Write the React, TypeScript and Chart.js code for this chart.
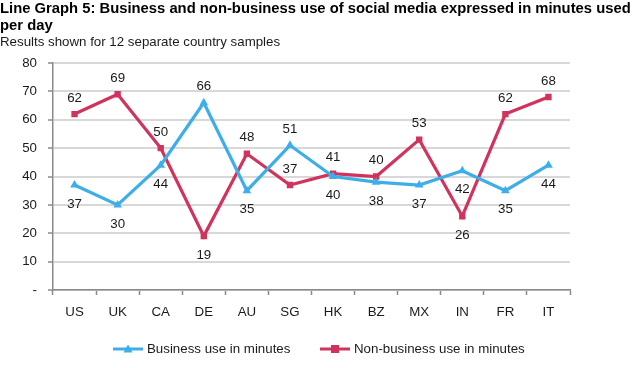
import React, { useEffect, useRef } from 'react';
import { Chart, registerables } from 'chart.js';

Chart.register(...registerables);

const titleLines = [
  'Line Graph 5: Business and non-business use of social media expressed in minutes used',
  'per day',
];
const subtitleText = 'Results shown for 12 separate country samples';
const countries = ['US', 'UK', 'CA', 'DE', 'AU', 'SG', 'HK', 'BZ', 'MX', 'IN', 'FR', 'IT'];
const businessUse = [37, 30, 44, 66, 35, 51, 40, 38, 37, 42, 35, 44];
const nonBusinessUse = [62, 69, 50, 19, 48, 37, 41, 40, 53, 26, 62, 68];
const businessLabelSide = ['below', 'below', 'below', 'above', 'below', 'above', 'below', 'below', 'below', 'below', 'below', 'below'];
const nonBusinessLabelSide = ['above', 'above', 'above', 'below', 'above', 'above', 'above', 'above', 'above', 'below', 'above', 'above'];
const yMin = 0;
const yMax = 80;
const yStep = 10;

const FONT = '"Liberation Sans", Arial, Helvetica, sans-serif';
const BLUE = '#3eaee8';
const RED = '#d1335c';
const TEXT = '#1a1a1a';
const AXIS = '#8a8a8a';
const FS = 13.3;

const headerPlugin = {
  id: 'header',
  afterDraw(chart: any) {
    const ctx = chart.ctx;
    ctx.save();
    ctx.fillStyle = '#000';
    ctx.textAlign = 'left';
    ctx.textBaseline = 'middle';
    ctx.font = `bold 14.8px ${FONT}`;
    titleLines.forEach((line, i) => ctx.fillText(line, 0, 9 + i * 17));
    ctx.font = `${FS}px ${FONT}`;
    ctx.fillStyle = TEXT;
    ctx.fillText(subtitleText, 0, 42);
    ctx.restore();
  },
};

const dataLabelPlugin = {
  id: 'dataLabels',
  afterDatasetsDraw(chart: any) {
    const ctx = chart.ctx;
    ctx.save();
    ctx.font = `${FS}px ${FONT}`;
    ctx.fillStyle = TEXT;
    ctx.textAlign = 'center';
    ctx.textBaseline = 'middle';
    chart.data.datasets.forEach((ds: any, di: number) => {
      const meta = chart.getDatasetMeta(di);
      meta.data.forEach((pt: any, i: number) => {
        const side = ds.labelSide[i];
        const dy = side === 'above' ? -16 : 19;
        ctx.fillText(String(ds.data[i]), pt.x, pt.y + dy);
      });
    });
    ctx.restore();
  },
};

const legendPlugin = {
  id: 'customLegend',
  afterDraw(chart: any) {
    const ctx = chart.ctx;
    const y = 349;
    const starts = [113, 320];
    ctx.save();
    chart.data.datasets.forEach((ds: any, di: number) => {
      const x0 = starts[di];
      ctx.strokeStyle = ds.borderColor;
      ctx.lineWidth = 3;
      ctx.beginPath();
      ctx.moveTo(x0, y);
      ctx.lineTo(x0 + 30, y);
      ctx.stroke();
      ctx.fillStyle = ds.borderColor;
      const cx = x0 + 15;
      if (ds.pointStyle === 'triangle') {
        ctx.beginPath();
        ctx.moveTo(cx, y - 4.5);
        ctx.lineTo(cx + 4.5, y + 3.5);
        ctx.lineTo(cx - 4.5, y + 3.5);
        ctx.closePath();
        ctx.fill();
      } else {
        ctx.fillRect(cx - 4, y - 4, 8, 8);
      }
      ctx.font = `${FS}px ${FONT}`;
      ctx.fillStyle = TEXT;
      ctx.textAlign = 'left';
      ctx.textBaseline = 'middle';
      ctx.fillText(ds.label, x0 + 34, y);
    });
    ctx.restore();
  },
};

export default function App() {
  const ref = useRef<HTMLCanvasElement | null>(null);

  useEffect(() => {
    document.body.style.margin = '0';
    const canvas = ref.current;
    if (!canvas) return;
    const chart = new Chart(canvas, {
      type: 'line',
      data: {
        labels: countries,
        datasets: [
          {
            label: 'Business use in minutes',
            data: businessUse,
            borderColor: BLUE,
            backgroundColor: BLUE,
            borderWidth: 3.2,
            pointStyle: 'triangle',
            pointRadius: 5,
            pointBorderWidth: 0,
            tension: 0,
            labelSide: businessLabelSide,
          } as any,
          {
            label: 'Non-business use in minutes',
            data: nonBusinessUse,
            borderColor: RED,
            backgroundColor: RED,
            borderWidth: 3.2,
            pointStyle: 'rect',
            pointRadius: 4.5,
            pointBorderWidth: 0,
            tension: 0,
            labelSide: nonBusinessLabelSide,
          } as any,
        ],
      },
      options: {
        responsive: false,
        animation: false,
        layout: { padding: { left: 0, right: 63, top: 63, bottom: 0 } },
        plugins: {
          legend: { display: false },
          tooltip: { enabled: false },
          title: { display: false },
        },
        scales: {
          x: {
            offset: true,
            grid: {
              display: true,
              drawOnChartArea: false,
              drawTicks: true,
              tickLength: 5,
              tickColor: AXIS,
              tickWidth: 1.5,
              offset: true,
            },
            border: { color: AXIS, width: 1.5 },
            ticks: {
              color: TEXT,
              font: { family: FONT, size: FS },
              padding: 9,
              maxRotation: 0,
              autoSkip: false,
            },
            afterFit(scale: any) {
              scale.height = 78;
            },
          },
          y: {
            min: yMin,
            max: yMax,
            grid: {
              color: '#d8d8d8',
              lineWidth: 2,
              drawTicks: true,
              tickLength: 5,
              tickColor: AXIS,
              tickWidth: 1.5,
            },
            border: { color: AXIS, width: 1.5 },
            ticks: {
              stepSize: yStep,
              color: TEXT,
              font: { family: FONT, size: FS },
              padding: 11,
              callback: (v: any) => (Number(v) === 0 ? '-' : String(v)),
            },
            afterFit(scale: any) {
              scale.width = 53;
            },
          },
        },
      },
      plugins: [dataLabelPlugin, legendPlugin, headerPlugin],
    } as any);
    return () => chart.destroy();
  }, []);

  return <canvas ref={ref} width={633} height={368} style={{ display: 'block' }} />;
}
